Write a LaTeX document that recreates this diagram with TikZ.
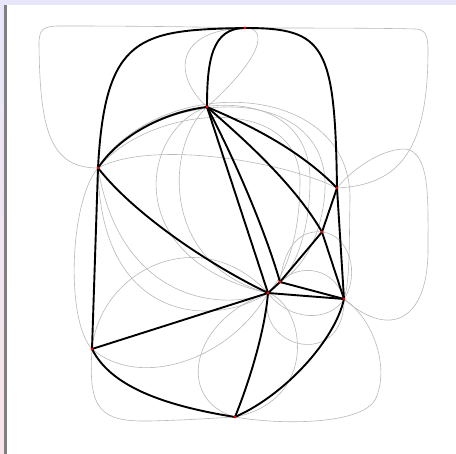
\documentclass[tikz,border=0pt]{standalone}
\usetikzlibrary{calc}
\definecolor{bandlav}{RGB}{232,230,250}
\definecolor{bandpink}{RGB}{248,228,232}
\definecolor{bargray}{RGB}{128,128,128}
\definecolor{thin}{RGB}{185,185,185}
\tikzset{
  vtx/.style={circle,fill=red,inner sep=0pt,minimum size=3pt},
  dual/.style={draw=thin,line width=0.6pt},
  prim/.style={draw=black,line width=1.9pt}
}
\begin{document}
\begin{tikzpicture}[x=1pt,y=-1pt]
\useasboundingbox (0,0) rectangle (456,454);
\fill[white] (0,0) rectangle (456,454);
\fill[bandlav] (0,0) rectangle (456,5);
\shade[top color=bandlav,bottom color=bandpink] (0,5) rectangle (4,454);
\fill[bargray] (4,5) rectangle (7,454);
% vertices
\coordinate (A) at (245,28);
\coordinate (B) at (207,107);
\coordinate (C) at (98,168);
\coordinate (D) at (337,188);
\coordinate (E) at (322,232);
\coordinate (F) at (280,282);
\coordinate (G) at (268,293);
\coordinate (H) at (344,299);
\coordinate (I) at (92,349);
\coordinate (J) at (235,417);
% grey curves
\draw[dual] (C) .. controls (50,168) and (40,130) .. (39,45) .. controls (39,30) and (42,26) .. (60,26)
  .. controls (150,26) and (200,27) .. (A) .. controls (300,28) and (380,28) .. (415,29)
  .. controls (425,29) and (428,35) .. (428,50) .. controls (428,150) and (400,185) .. (D);
\draw[dual] (A) .. controls (175,30) and (172,75) .. (B);
\draw[dual] (A) .. controls (270,28) and (260,60) .. (B);
\draw[dual] (D) .. controls (360,160) and (395,145) .. (410,150) .. controls (430,160) and (428,200) .. (428,250)
  .. controls (428,320) and (390,340) .. (H);
\draw[dual] (C) .. controls (150,140) and (280,160) .. (D);
\draw[dual] (C) .. controls (140,95) and (310,70) .. (310,180) .. controls (310,240) and (290,280) .. (G);
\draw[dual] (C) .. controls (150,88) and (330,78) .. (325,190) .. controls (322,240) and (300,270) .. (F);
\draw[dual] (C) .. controls (150,105) and (298,92) .. (300,180) .. controls (300,240) and (285,275) .. (G);
\draw[dual] (C) .. controls (160,72) and (352,80) .. (350,200) .. controls (349,250) and (350,280) .. (H);
\draw[dual] (C) .. controls (70,200) and (65,320) .. (I);
\draw[dual] (I) .. controls (88,410) and (100,422) .. (150,421) .. controls (190,420) and (215,418) .. (J)
  .. controls (280,425) and (360,425) .. (375,400) .. controls (390,370) and (375,320) .. (H);
\draw[dual] (I) .. controls (100,270) and (200,220) .. (G);
\draw[dual] (I) .. controls (140,390) and (230,360) .. (G);
\draw[dual] (G) .. controls (190,320) and (175,400) .. (J);
\draw[dual] (G) .. controls (305,305) and (320,400) .. (J);
\draw[dual] (G) .. controls (255,350) and (345,370) .. (H);
\draw[dual] (G) .. controls (290,322) and (330,322) .. (H);
\draw[dual] (E) .. controls (350,235) and (360,275) .. (H);
\draw[dual] (F) .. controls (285,240) and (305,230) .. (E);
\draw[dual] (F) .. controls (300,262) and (335,268) .. (H);
\draw[dual] (B) .. controls (140,130) and (120,260) .. (G);
\draw[dual] (B) .. controls (165,145) and (160,265) .. (G);
\draw[dual] (C) .. controls (100,320) and (210,330) .. (G);
\draw[dual] (C) .. controls (120,300) and (220,312) .. (G);
% black edges
\draw[prim] (A) .. controls (140,30) and (105,35) .. (C);
\draw[prim] (A) .. controls (212,28) and (207,60) .. (B);
\draw[prim] (A) .. controls (325,28) and (335,45) .. (D);
\draw[prim] (D) -- (H);
\draw[prim] (B) .. controls (165,112) and (120,135) .. (C);
\draw[prim] (B) .. controls (250,125) and (300,150) .. (D);
\draw[prim] (B) .. controls (245,140) and (295,185) .. (E);
\draw[prim] (B) -- (G);
\draw[prim] (B) .. controls (235,160) and (265,230) .. (F);
\draw[prim] (C) .. controls (135,215) and (210,265) .. (G);
\draw[prim] (C) -- (I);
\draw[prim] (I) -- (G);
\draw[prim] (I) .. controls (110,385) and (160,405) .. (J);
\draw[prim] (J) .. controls (250,380) and (265,330) .. (G);
\draw[prim] (J) .. controls (285,395) and (335,340) .. (H);
\draw[prim] (G) -- (H);
\draw[prim] (F) -- (H);
\draw[prim] (G) -- (F);
\draw[prim] (F) -- (E);
\draw[prim] (E) -- (D);
\draw[prim] (E) -- (H);
% vertex dots
\foreach \v in {A,B,C,D,E,F,G,H,I,J} \node[vtx] (v\v) at (\v) {};
\end{tikzpicture}
\end{document}
